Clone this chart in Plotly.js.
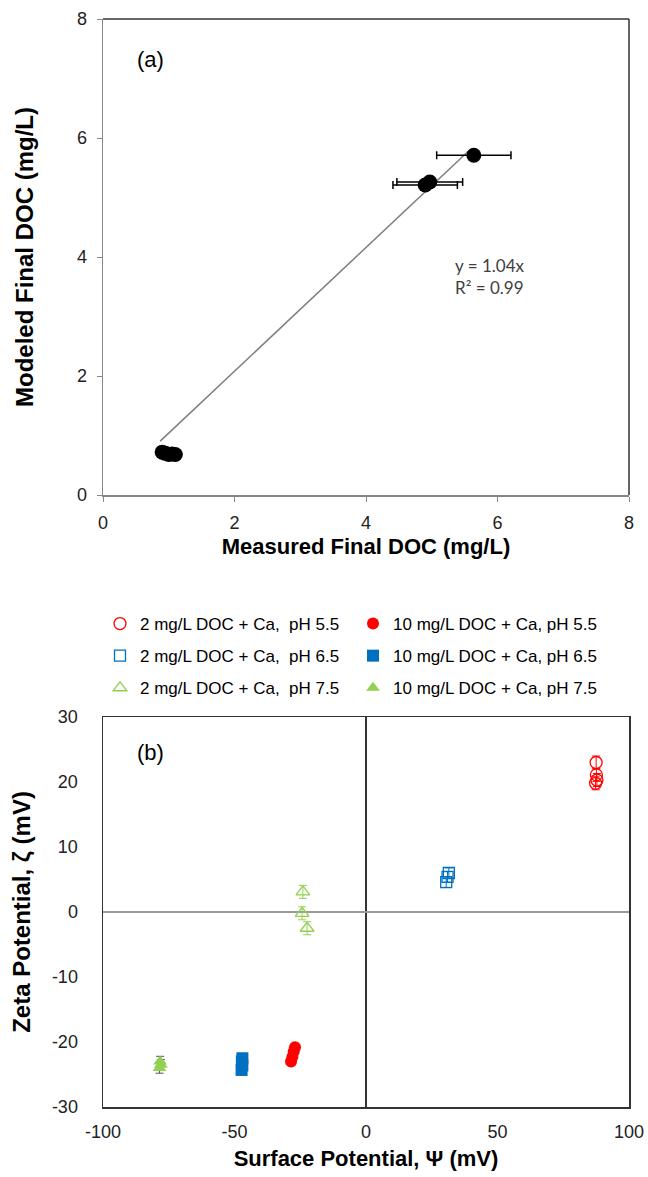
<!DOCTYPE html>
<html><head><meta charset="utf-8">
<script src="https://cdn.plot.ly/plotly-3.0.1.min.js"></script>
<style>html,body{margin:0;padding:0;background:#fff}#chart{width:648px;height:1177px}</style>
</head><body><div id="chart"></div><script>
// ---------- Panel (a) data ----------
const measuredDOC = [0.90, 0.95, 1.00, 1.05, 1.10, 4.90, 4.97, 5.64];
const modeledDOC  = [0.72, 0.70, 0.68, 0.69, 0.68, 5.21, 5.26, 5.71];
const measuredErr = [0.00, 0.00, 0.00, 0.00, 0.00, 0.49, 0.50, 0.565];
const trendSlope = 1.04;
const trendLabel = ['y = 1.04x', 'R\u00b2 = 0.99'];
const ticksA = [0, 2, 4, 6, 8];

// ---------- Panel (b) data ----------
const seriesNames = [
  '2 mg/L DOC + Ca,  pH 5.5', '10 mg/L DOC + Ca, pH 5.5',
  '2 mg/L DOC + Ca,  pH 6.5', '10 mg/L DOC + Ca, pH 6.5',
  '2 mg/L DOC + Ca,  pH 7.5', '10 mg/L DOC + Ca, pH 7.5'
];
const psi_2_55  = [87.5, 87.6, 87.8, 87.3];
const zeta_2_55 = [23.0, 21.1, 20.3, 19.8];
const err_2_55  = [1.0, 1.0, 1.0, 1.0];
const psi_10_55  = [-27.0, -27.5, -28.0, -28.5];
const zeta_10_55 = [-20.8, -21.5, -22.3, -23.0];
const psi_2_65  = [30.5, 31.0, 31.5];
const zeta_2_65 = [4.6, 5.4, 6.0];
const err_2_65  = [0.8, 0.8, 0.8];
const psi_10_65  = [-47.0, -47.2, -47.0, -47.3];
const zeta_10_65 = [-22.5, -23.0, -23.6, -24.3];
const psi_2_75  = [-24.0, -24.3, -22.4];
const zeta_2_75 = [3.1, -0.2, -2.5];
const err_2_75  = [1.0, 1.0, 1.0];
const psi_10_75  = [-78.3, -78.0, -78.5];
const zeta_10_75 = [-23.0, -23.5, -24.0];
const err_10_75  = [0.8, 0.8, 0.8];
const xTicksB = [-100, -50, 0, 50, 100];
const yTicksB = [-30, -20, -10, 0, 10, 20, 30];

const RED = '#FF0000', BLUE = '#0070C0', GREEN = '#92D050';
const FONT = 'Liberation Sans, Arial, sans-serif';
const H = 1177, W = 648;
const px2x = p => p / W;
const px2y = p => (H - p) / H;

const minX = Math.min(...measuredDOC), maxX = Math.max(...measuredDOC);
const trendX = [minX - 0.03, maxX - 0.08];
const trendY = trendX.map(v => trendSlope * v);

function series(x, y, i, marker, errArr, errColor) {
  const t = {x: x, y: y, name: seriesNames[i], xaxis: 'x2', yaxis: 'y2', mode: 'markers',
    legend: (i % 2 === 0) ? 'legend' : 'legend2', legendgroup: 'g' + i, marker: marker};
  if (errArr) t.error_y = {type: 'data', array: errArr, color: errColor, thickness: 1, width: 4};
  return t;
}

const traces = [
  {x: trendX, y: trendY, xaxis: 'x', yaxis: 'y', mode: 'lines', showlegend: false,
   line: {color: '#7f7f7f', width: 1.5}, hoverinfo: 'skip'},
  {x: measuredDOC, y: modeledDOC, xaxis: 'x', yaxis: 'y', mode: 'markers', showlegend: false,
   marker: {color: '#000', size: 15, symbol: 'circle'},
   error_x: {type: 'data', array: measuredErr, visible: true, color: '#000', thickness: 1.5, width: 4}},
  series(psi_2_55, zeta_2_55, 0, {symbol: 'circle-open', color: RED, size: 12, line: {width: 1.3}}, err_2_55, RED),
  series(psi_10_55, zeta_10_55, 1, {symbol: 'circle', color: RED, size: 12}),
  series(psi_2_65, zeta_2_65, 2, {symbol: 'square-open', color: BLUE, size: 11, line: {width: 1.3}}, err_2_65, BLUE),
  series(psi_10_65, zeta_10_65, 3, {symbol: 'square', color: BLUE, size: 12}),
  series(psi_2_75, zeta_2_75, 4, {symbol: 'triangle-up-open', color: GREEN, size: 12, line: {width: 1.3}}, err_2_75, GREEN),
  series(psi_10_75, zeta_10_75, 5, {symbol: 'triangle-up', color: GREEN, size: 12}, err_10_75, '#555')
];

const tickFont = {family: FONT, size: 18, color: '#222'};
const titleFont = {family: FONT, size: 22, color: '#000', weight: 'bold'};
const yTitleFont = {family: FONT, size: 24, color: '#000', weight: 'bold'};
const legendFont = {family: FONT, size: 17, color: '#000'};

const layout = {
  width: W, height: H,
  margin: {l: 0, r: 0, t: 0, b: 0},
  paper_bgcolor: '#fff', plot_bgcolor: '#fff',
  showlegend: true,
  font: {family: FONT, color: '#000'},
  xaxis: {domain: [px2x(103), px2x(629)], anchor: 'y', range: [0, 8], tickvals: ticksA,
    ticks: 'outside', ticklen: 5, tickcolor: '#868686', showgrid: false, zeroline: false,
    showline: true, linecolor: '#868686', linewidth: 1.5, tickfont: tickFont, ticklabelstandoff: 6,
    title: {text: 'Measured Final DOC (mg/L)', font: titleFont, standoff: 6}},
  yaxis: {domain: [px2y(495), px2y(19)], anchor: 'x', range: [0, 8], tickvals: ticksA,
    ticks: 'outside', ticklen: 5, tickcolor: '#868686', showgrid: false, zeroline: false,
    showline: true, linecolor: '#868686', linewidth: 1.5, tickfont: tickFont, ticklabelstandoff: 6,
    title: {text: 'Modeled Final DOC (mg/L)', font: yTitleFont, standoff: 36}},
  xaxis2: {domain: [px2x(103), px2x(629)], anchor: 'y2', range: [-100, 100], tickvals: xTicksB,
    ticktext: xTicksB.map(String), ticks: '', showgrid: false,
    zeroline: true, zerolinecolor: '#333', zerolinewidth: 1.5,
    showline: true, mirror: true, linecolor: '#333', linewidth: 1.5, tickfont: tickFont, ticklabelstandoff: 8,
    title: {text: 'Surface Potential, \u03a8 (mV)', font: titleFont, standoff: 9}},
  yaxis2: {domain: [px2y(1107), px2y(717)], anchor: 'x2', range: [-30, 30], tickvals: yTicksB,
    ticktext: yTicksB.map(String), ticks: '', showgrid: false,
    zeroline: true, zerolinecolor: '#9a9a9a', zerolinewidth: 1.5,
    showline: true, mirror: true, linecolor: '#333', linewidth: 1.5, tickfont: tickFont, ticklabelstandoff: 20,
    title: {text: 'Zeta Potential, \u03b6 (mV)', font: yTitleFont, standoff: 14}},
  shapes: [
    {type: 'line', xref: 'x domain', yref: 'y domain', x0: 0, x1: 1, y0: 1, y1: 1, line: {color: '#333', width: 1.5}},
    {type: 'line', xref: 'x domain', yref: 'y domain', x0: 1, x1: 1, y0: 0, y1: 1, line: {color: '#333', width: 1.5}}
  ],
  annotations: [
    {text: '(a)', xref: 'x domain', yref: 'y domain', x: 0.06, y: 0.915, xanchor: 'left', yanchor: 'middle',
     showarrow: false, font: {family: FONT, size: 22, color: '#000'}},
    {text: '(b)', xref: 'x2 domain', yref: 'y2 domain', x: 0.06, y: 0.91, xanchor: 'left', yanchor: 'middle',
     showarrow: false, font: {family: FONT, size: 22, color: '#000'}},
    {text: trendLabel.join('<br>'), xref: 'x', yref: 'y', x: 5.32, y: 3.68, xanchor: 'left', yanchor: 'middle',
     align: 'left', showarrow: false, font: {family: 'Lato, Open Sans, sans-serif', size: 17, color: '#404040'}}
  ],
  legend: {orientation: 'v', x: px2x(100), xanchor: 'left', y: px2y(606), yanchor: 'top',
    tracegroupgap: 7, font: legendFont, bgcolor: 'rgba(0,0,0,0)', itemwidth: 30},
  legend2: {orientation: 'v', x: px2x(353), xanchor: 'left', y: px2y(606), yanchor: 'top',
    tracegroupgap: 7, font: legendFont, bgcolor: 'rgba(0,0,0,0)', itemwidth: 30}
};

Plotly.newPlot('chart', traces, layout, {staticPlot: true, displayModeBar: false});
</script></body></html>
